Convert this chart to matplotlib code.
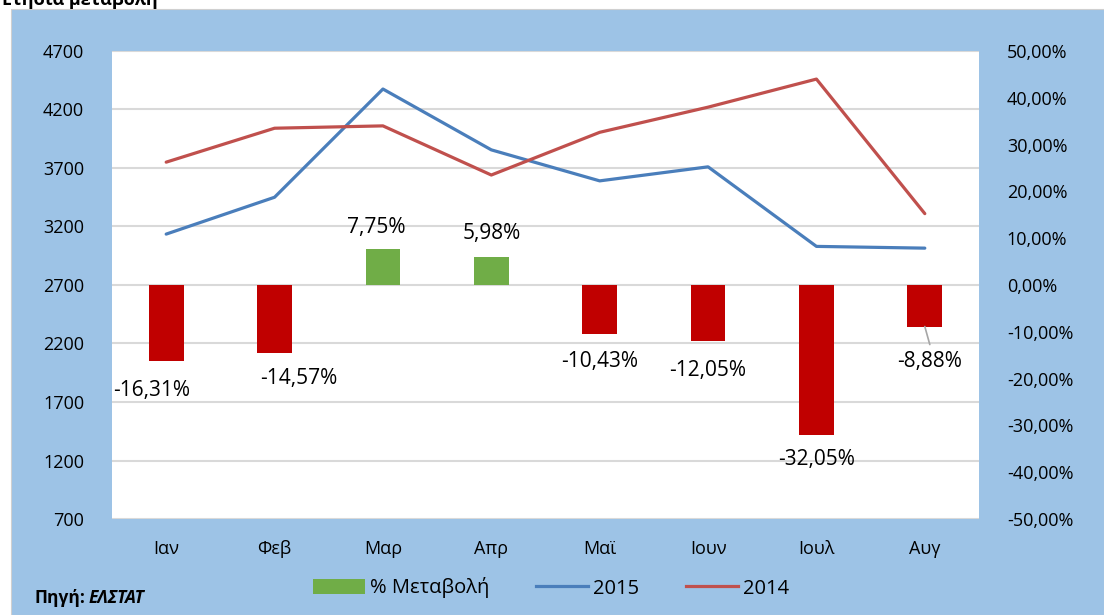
import matplotlib
matplotlib.use("Agg")
import matplotlib.pyplot as plt
from matplotlib.patches import Rectangle, Patch
from matplotlib.lines import Line2D

plt.rcParams['font.family'] = ['Open Sans', 'DejaVu Sans']

# ---- data ----
months = ['Ιαν', 'Φεβ', 'Μαρ', 'Απρ', 'Μαϊ', 'Ιουν', 'Ιουλ', 'Αυγ']
values_2015 = [3135, 3450, 4375, 3855, 3590, 3710, 3030, 3015]
values_2014 = [3750, 4040, 4060, 3640, 4005, 4220, 4460, 3310]
pct_change = [-16.31, -14.57, 7.75, 5.98, -10.43, -12.05, -32.05, -8.88]
left_ticks = [700, 1200, 1700, 2200, 2700, 3200, 3700, 4200, 4700]
right_ticks = [-50, -40, -30, -20, -10, 0, 10, 20, 30, 40, 50]

# label offsets (pixels) relative to bar end
label_offsets = [(-15, -29), (24, -25), (-7, 21), (0, 24),
                 (0, -28), (0, -29), (0, -25), (5, -35)]

BG = '#9DC3E6'
GREEN = '#70AD47'
DARKRED = '#C00000'
BLUE = '#4A7EBB'
RED = '#C0504D'
GRID = '#D9D9D9'

W, H = 1104, 615
fig = plt.figure(figsize=(W / 100, H / 100), dpi=100)
fig.patch.set_facecolor('white')
bg = Rectangle((11 / W, 0), 1 - 11 / W, 1 - 9 / H,
               transform=fig.transFigure, facecolor=BG,
               edgecolor='#D0D0D0', linewidth=0.8, zorder=-10)
fig.add_artist(bg)

fig.text(2 / W, 1 - 5 / H, 'Ετήσια μεταβολή', fontsize=13, fontweight='bold',
         ha='left', va='baseline')

ax = fig.add_axes([112 / W, 1 - 519 / H, 867 / W, 468 / H])
ax.set_facecolor('white')
ax2 = ax.twinx()

x = list(range(len(months)))

# gridlines on primary axis
ax.set_ylim(700, 4700)
ax.set_yticks(left_ticks)
ax.yaxis.grid(True, color=GRID, linewidth=1.5)
ax.set_axisbelow(True)

# bars on secondary axis
ax2.set_ylim(-50, 50)
ax2.set_yticks(right_ticks)
colors = [GREEN if v > 0 else DARKRED for v in pct_change]
ax2.bar(x, pct_change, width=0.32, color=colors, zorder=2)

# lines (values on primary scale) drawn on top of the bars
ax2.plot(x, values_2015, color=BLUE, linewidth=2.3, transform=ax.transData,
         solid_capstyle='round', zorder=3)
ax2.plot(x, values_2014, color=RED, linewidth=2.3, transform=ax.transData,
         solid_capstyle='round', zorder=3)

for i, v in enumerate(pct_change):
    dx, dy = label_offsets[i]
    txt = ('%.2f%%' % v).replace('.', ',')
    ax2.annotate(txt, xy=(i, v), xytext=(dx, dy), textcoords='offset pixels',
                 ha='center', va='center', fontsize=15, color='black', zorder=4)
# leader line for last label
ax2.annotate('', xy=(7, pct_change[7]), xytext=(5, -18), textcoords='offset pixels',
             arrowprops=dict(arrowstyle='-', color='#A6A6A6', lw=1.2,
                             shrinkA=0, shrinkB=0))

ax.set_xlim(-0.5, len(months) - 0.5)
ax.set_xticks(x)
ax.set_xticklabels(months, fontsize=13)
ax.tick_params(axis='x', length=0, pad=15)
ax.tick_params(axis='y', length=0, pad=20, labelsize=13)
ax2.tick_params(axis='y', length=0, pad=20, labelsize=13)
ax2.set_yticklabels([('%.2f%%' % t).replace('.', ',') for t in right_ticks])

for a in (ax, ax2):
    for s in a.spines.values():
        s.set_visible(False)

handles = [Patch(facecolor=GREEN, edgecolor='none'),
           Line2D([0], [0], color=BLUE, linewidth=2.3),
           Line2D([0], [0], color=RED, linewidth=2.3)]
fig.legend(handles, ['% Μεταβολή', '2015', '2014'], loc='center',
           bbox_to_anchor=(551 / W, 1 - 588 / H), ncol=3, frameon=False,
           fontsize=14.5, handlelength=2.6, handletextpad=0.25,
           columnspacing=2.3)

fig.text(35 / W, 1 - 598 / H, 'Πηγή:', fontsize=12.5, fontweight='bold',
         ha='left', va='center')
fig.text(89 / W, 1 - 598 / H, 'ΕΛΣΤΑΤ', fontsize=12.5, fontweight='bold',
         fontstyle='italic', ha='left', va='center')

fig.savefig('out.png', dpi=100)
